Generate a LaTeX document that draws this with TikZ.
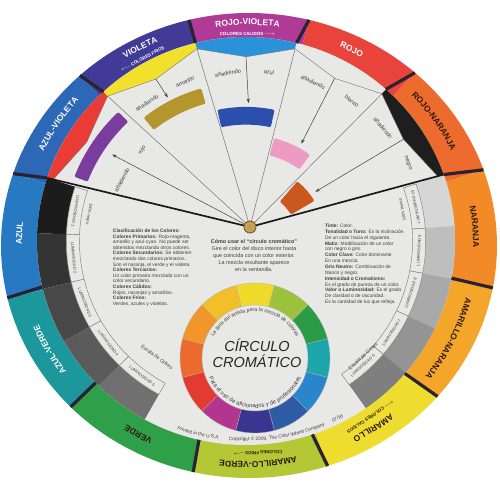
\documentclass[tikz,border=0pt]{standalone}
\usepackage{fontspec}
\setmainfont{Liberation Sans}
\usepackage{tikz}
\usetikzlibrary{arrows.meta,calc,decorations.text}

% outer ring colours
\definecolor{cRV}{HTML}{B03B97}
\definecolor{cR}{HTML}{E8443B}
\definecolor{cRN}{HTML}{EE6B2E}
\definecolor{cN}{HTML}{F28B27}
\definecolor{cAN}{HTML}{F4A62A}
\definecolor{cA}{HTML}{EEDC2F}
\definecolor{cAV}{HTML}{B4C734}
\definecolor{cV}{HTML}{2F9F49}
\definecolor{cZV}{HTML}{1C979B}
\definecolor{cZ}{HTML}{2779C2}
\definecolor{cZVi}{HTML}{2D68B6}
\definecolor{cVi}{HTML}{423A97}
\definecolor{sepcol}{HTML}{2A2230}
\definecolor{discbg}{HTML}{E8E8E6}
\definecolor{txtgray}{HTML}{3E3E3E}
\definecolor{lbldark}{HTML}{2B1A12}
% windows and patches
\definecolor{wRed}{HTML}{EB3B35}
\definecolor{wYel}{HTML}{F1E02C}
\definecolor{wBlue}{HTML}{2A92D8}
\definecolor{wBlk}{HTML}{1E1E1E}
\definecolor{pPurple}{HTML}{7A3D9E}
\definecolor{pOlive}{HTML}{B5962C}
\definecolor{pBlue}{HTML}{2C4EAD}
\definecolor{pPink}{HTML}{EE9BC3}
\definecolor{pBrown}{HTML}{C9571F}
% gray scale
\definecolor{g1}{HTML}{1C1C1C}
\definecolor{g2}{HTML}{343434}
\definecolor{g3}{HTML}{484848}
\definecolor{g4}{HTML}{5B5B5B}
\definecolor{g5}{HTML}{707070}
\definecolor{g6}{HTML}{7F7F7F}
\definecolor{g7}{HTML}{949494}
\definecolor{g8}{HTML}{A9A9A9}
\definecolor{g9}{HTML}{BEBEBE}
\definecolor{g10}{HTML}{D6D6D6}
% small wheel
\definecolor{sY}{HTML}{EFD92B}
\definecolor{sYG}{HTML}{9CC23C}
\definecolor{sG}{HTML}{2B9B47}
\definecolor{sT}{HTML}{1CA6A9}
\definecolor{sB}{HTML}{2A86CC}
\definecolor{sDB}{HTML}{2E5BA6}
\definecolor{sVi}{HTML}{3A3591}
\definecolor{sM}{HTML}{B2358F}
\definecolor{sRd}{HTML}{E43B30}
\definecolor{sRO}{HTML}{EC6A2D}
\definecolor{sO}{HTML}{F2952A}
\definecolor{sYO}{HTML}{F2BE2A}
\definecolor{rivetc}{HTML}{C9A24A}
\definecolor{rivetd}{HTML}{7A5A22}

\newcommand\ringfont{\fontsize{8.5}{9}\bfseries}
\newcommand\sector[4]{(#1:#4) arc[start angle=#1,end angle=#2,radius=#4] -- (#2:#3) arc[start angle=#2,end angle=#1,radius=#3] -- cycle}
% label along the middle of the colour ring
\newcommand\ringlabel[4]{%
  \pgfmathsetmacro\rxa{228.5+#2}\pgfmathsetmacro\rya{218.25+#2}%
  \pgfmathsetmacro\sa{#1+60}\pgfmathsetmacro\ea{#1-60}%
  \path[shift={(-0.5,-0.25)},decorate,decoration={text along path,text align=center,text color=#3,text={|\ringfont|#4}}]
    (\sa:{\rxa} and {\rya}) arc[start angle=\sa,end angle=\ea,x radius=\rxa,y radius=\rya];}

\begin{document}
\begin{tikzpicture}[x=1pt,y=1pt,
  every node/.style={inner sep=0pt,outer sep=0pt},
  sepbar/.style={line width=3.2pt,draw=sepcol},
  wline/.style={draw=black!55,line width=0.5pt},
  thickline/.style={draw=black!90,line width=1.7pt},
  winbox/.style={draw=black!55,line width=0.4pt},
  patch/.style={rounded corners=1.2pt},
  addarrow/.style={draw=black!75,line width=0.5pt,-{Stealth[length=4.5pt,width=3.2pt]}},
  wlabel/.style={font=\fontsize{5.6}{6}\selectfont,text=txtgray},
  lumbox/.style={fill=discbg,draw=black!50,line width=0.45pt},
  lumlabel/.style={font=\fontsize{4}{4.5}\selectfont,text=txtgray},
  sublbl/.style={font=\fontsize{4.5}{5}\bfseries},
  para/.style={align=left,text=txtgray,font=\fontsize{4.9}{5.6}\selectfont},
]
\fill[white] (-248,-257) rectangle (252,243);
\useasboundingbox (-248,-257) rectangle (252,243);

%--------------- outer colour ring ---------------
\begin{scope}[shift={(1,-2.5)},xscale=1.0333,yscale=0.96875]
  \foreach \a/\b/\c in {19/48/cRN,48/76/cR,76/104/cRV,104/133/cVi,133/162/cZVi,162/193/cZ,
      193/224/cZV,224/257/cV,257/288.5/cAV,288.5/319.5/cA,319.5/349.5/cAN,349.5/379/cN}
    \fill[\c] (0,0) -- (\a:240) arc[start angle=\a,end angle=\b,radius=240] -- cycle;
  \foreach \a [count=\i] in {19,48,76,104,133,162,193,224,257,288.5,319.5,349.5}
    \coordinate (out\i) at (\a:240);
\end{scope}

%--------------- inner disc ---------------
\begin{scope}[shift={(-2,2)},xscale=1.0097,yscale=0.9855]
  \fill[discbg] (0,0) circle[radius=207];
  \foreach \a [count=\i] in {19,48,76,104,133,162,193,224,257,288.5,319.5,349.5}
    \coordinate (in\i) at (\a:207);
  % windows
  \foreach \a/\b/\m/\c [count=\k] in {133/162/147.5/wRed,104/133/118.5/wYel,76/104/90/wBlue,48/76/62/discbg,19/48/33.5/wBlk}{
    \fill[\c] (\a:207) arc[start angle=\a,end angle=\b,radius=207] -- (\b:201) -- (\m:187) -- (\a:201) -- cycle;
    \draw[winbox] (\b:201) -- (\m:187) -- (\a:201);
    \coordinate (wp\k) at (\m:187);
  }
  \foreach \a [count=\k] in {162,133,104,76,48,19}
    \coordinate (cn\k) at (\a:201);
  \coordinate (edgeL) at (162:207);
  \coordinate (edgeR) at (19:207);
  % mixed colour patches
  \fill[pPurple,patch] \sector{134}{159}{168}{182};
  \fill[pOlive,patch] \sector{106}{129}{145}{161};
  \fill[pBlue,patch] \sector{78}{102}{118}{136};
  \fill[pPink,patch] \sector{54}{75}{90}{108};
  \fill[pBrown,patch] \sector{31}{50}{52}{79};
  \coordinate (tipR) at (146.5:159);
  \coordinate (tipA) at (118:165);
  \coordinate (tipZ) at (89:140);
  \coordinate (tipB) at (61:113);
  \coordinate (tipN) at (36:85);
  % gray scale, left
  \foreach \a/\b/\c/\lum in {162/177.8/g1/1,177.8/193.6/g2/2,193.6/209.4/g3/3,209.4/225.2/g4/4,225.2/241/g5/5}{
    \fill[\c] \sector{\a}{\b}{178}{207};
    \filldraw[lumbox] \sector{\a}{\b}{165}{178};
    \pgfmathsetmacro\ma{(\a+\b)/2}
    \pgfmathsetmacro\rot{\ma+90}
    \node[lumlabel,rotate=\rot] (lum\lum) at (\ma:171.5) {LUMINOSIDAD \lum};
  }
  % gray scale, right
  \foreach \a/\b/\c/\lum in {4.2/19/g10/10,-10.6/4.2/g9/9,-25.4/-10.6/g8/8,-40.2/-25.4/g7/7,-55/-40.2/g6/6}{
    \fill[\c] \sector{\a}{\b}{178}{207};
    \filldraw[lumbox] \sector{\a}{\b}{165}{178};
    \pgfmathsetmacro\ma{(\a+\b)/2}
    \pgfmathsetmacro\rot{\ma+90}
    \node[lumlabel,rotate=\rot] (lum\lum) at (\ma:171.5) {LUMINOSIDAD \lum};
  }
  \node[lumlabel,rotate=260] (pctblack) at (170:158) {100\% negro};
  \node[lumlabel,rotate=101.6] (pctwhite) at (11.6:158) {100\% blanco};
\end{scope}

% separators between ring colours
\foreach \i in {1,...,12}
  \draw[sepbar] (in\i) -- (out\i);

%--------------- wedge lines and arrows ---------------
\coordinate (piv) at (2,16);
\draw[thickline] (piv) -- (edgeL);
\draw[thickline] (piv) -- (edgeR);
\foreach \k in {2,...,5}
  \draw[wline] (piv) -- (cn\k);
\draw[addarrow] (piv) -- (tipR);
\draw[addarrow] (wp2) -- (tipA);
\draw[addarrow] (wp3) -- (tipZ);
\draw[addarrow] (wp4) -- (tipB);
\draw[addarrow] (wp5) -- (tipN);

\node[wlabel,rotate=62] (addR) at (-126,63) {añadiendo};
\node[wlabel,rotate=60] (wordR) at (-106,93) {rojo};
\node[wlabel,rotate=33] (addA) at (-101,140) {añadiendo};
\node[wlabel,rotate=25] (wordA) at (-63,161) {amarillo};
\node[wlabel,rotate=10] (addZ) at (-20,170) {añadiendo};
\node[wlabel,rotate=-10] (wordZ) at (21,171) {azul};
\node[wlabel,rotate=-25] (addB) at (65,161) {añadiendo};
\node[wlabel,rotate=-40] (wordB) at (104,142) {blanco};
\node[wlabel,rotate=-50] (addN) at (135,115) {añadiendo};
\node[wlabel,rotate=-70] (wordN) at (160,80) {negro};

\node[font=\fontsize{5}{5}\selectfont,text=txtgray,rotate=-36] (scaleL) at (-91,-114) {Escala de Grises};
\node[font=\fontsize{5}{5}\selectfont,text=txtgray,rotate=43] (scaleR) at (115,-113) {Escala de Grises};

%--------------- ring labels ---------------
\ringlabel{90}{0}{white}{ROJO-VIOLETA}
\ringlabel{62}{-3}{white}{ROJO}
\ringlabel{33.5}{-3}{lbldark}{ROJO-NARANJA}
\ringlabel{4.25}{-3}{lbldark}{NARANJA}
\ringlabel{334.5}{-3}{lbldark}{AMARILLO-NARANJA}
\ringlabel{304}{0}{lbldark}{AMARILLO}
\ringlabel{272.75}{0}{lbldark}{AMARILLO-VERDE}
\ringlabel{240.5}{-3}{lbldark}{VERDE}
\ringlabel{208.5}{-3}{white}{AZUL-VERDE}
\ringlabel{177.5}{-3}{white}{AZUL}
\ringlabel{147.5}{-3}{white}{AZUL-VIOLETA}
\ringlabel{118.5}{0}{white}{VIOLETA}
\begin{scope}[shift={(-0.5,-0.25)}]
  \node[sublbl,text=white,rotate=28.5] (subVi) at (118.5:{220} and {209.75}) {$\longleftarrow$\,COLORES FRIOS};
  \node[sublbl,text=white] (subRV) at (90:{220} and {209.75}) {COLORES CALIDOS\,$\longrightarrow$};
  \node[sublbl,text=lbldark,rotate=214] (subA) at (304:{220} and {209.75}) {$\longleftarrow$\,COLORES CALIDOS};
  \node[sublbl,text=lbldark,rotate=182.75] (subAV) at (272.75:{220} and {209.75}) {COLORES FRIOS\,$\longrightarrow$};
\end{scope}

%--------------- texts ---------------
\node[para,anchor=north west] (clasif) at (-135,14) {%
  {\bfseries Clasificación de los Colores:}\\
  {\bfseries Colores Primarios:} Rojo-magenta,\\
  amarillo y azul-cyan. No puede ser\\
  obtenidos mezclando otros colores.\\
  {\bfseries Colores Secundarios:} Se obtienen\\
  mezclando dos colores primarios.\\
  Son el naranja, el verde y el violeta.\\
  {\bfseries Colores Terciarios:}\\
  Un color primario mezclado con un\\
  color secundario.\\
  {\bfseries Colores Cálidos:}\\
  Rojos, naranjas y amarillos.\\
  {\bfseries Colores Fríos:}\\
  Verdes, azules y violetas.};
\node[para,align=center,anchor=north,font=\fontsize{5.4}{7}\selectfont] (howto) at (6,3) {%
  {\bfseries Cómo usar el “círculo cromático”}\\
  Gire el color del disco interior hasta\\
  que coincida con un color exterior.\\
  La mezcla resultante aparece\\
  en la ventanilla.};
\node[para,anchor=north west,font=\fontsize{4.9}{5.85}\selectfont] (terms) at (77,19) {%
  {\bfseries Tinte:} Color.\\
  {\bfseries Tonalidad o Tono:} Es la inclinación\\
  De un color hacia el siguiente.\\
  {\bfseries Matiz:} Modificación de un color\\
  con negro o gris.\\
  {\bfseries Color Clave:} Color dominante\\
  En una mezcla.\\
  {\bfseries Gris Neutro:} Combinación de\\
  blanco y negro.\\
  {\bfseries Intensidad o Cromatismo:}\\
  Es el grado de pureza de un color.\\
  {\bfseries Valor o Luminosidad:} Es el grado\\
  De claridad o de oscuridad.\\
  Es la cantidad de luz que refleja.};

% printed line along the bottom
\begin{scope}[shift={(-2,2)}]
  \path[decorate,decoration={text along path,text align=center,text color=txtgray,text={|\fontsize{4.8}{5}\selectfont|Printed in the U.S.A.}}]
    (226.4:{205} and {200}) arc[start angle=226.4,end angle=286.4,x radius=205,y radius=200];
  \path[decorate,decoration={text along path,text align=center,text color=txtgray,text={|\fontsize{4.8}{5}\selectfont|Copyright © 2009, The Color Wheel Company}}]
    (239:{205} and {200}) arc[start angle=239,end angle=319,x radius=205,y radius=200];
  \path[decorate,decoration={text along path,text align=center,text color=txtgray,text={|\fontsize{4.8}{5}\selectfont|07/16}}]
    (276.8:{205} and {200}) arc[start angle=276.8,end angle=316.8,x radius=205,y radius=200];
\end{scope}

%--------------- small colour wheel ---------------
\begin{scope}[shift={(7,-115)}]
  \foreach \c [count=\k from 0] in {sY,sYG,sG,sT,sB,sDB,sVi,sM,sRd,sRO,sO,sYO}{
    \pgfmathsetmacro\a{75-30*\k}
    \pgfmathsetmacro\b{105-30*\k}
    \filldraw[fill=\c,draw=black!30,line width=0.3pt] \sector{\a}{\b}{53}{75};
  }
  \path[decorate,decoration={text along path,text align=center,text color=txtgray,text={|\fontsize{5.2}{5.5}\selectfont|La guía del artista para la mezcla de colores}}]
    (175:46.5) arc[start angle=175,end angle=5,radius=46.5];
  \path[decorate,decoration={text along path,text align=center,text color=txtgray,text={|\fontsize{5.8}{6}\selectfont|Para el uso de aficionados y de profesionales}}]
    (182:50) arc[start angle=182,end angle=358,radius=50];
\end{scope}
\node[font=\fontsize{14.5}{16}\itshape,text=black!85,align=center] (title) at (9,-110) {CÍRCULO\\CROMÁTICO};

% pivot
\node[circle,fill=rivetc,draw=rivetd,line width=0.9pt,minimum size=12pt] (rivet) at (piv) {};
\fill[rivetd!60!white] (rivet.center) circle[radius=2.5];
\end{tikzpicture}
\end{document}
